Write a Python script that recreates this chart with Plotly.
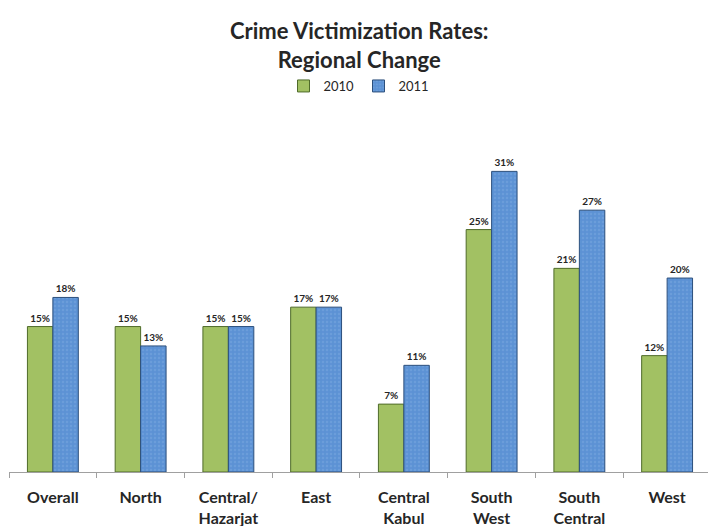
import plotly.graph_objects as go

regions = ["Overall", "North", "Central/<br>Hazarjat", "East", "Central<br>Kabul",
           "South<br>West", "South<br>Central", "West"]
rates_2010 = [15, 15, 15, 17, 7, 25, 21, 12]
rates_2011 = [18, 13, 15, 17, 11, 31, 27, 20]

W, H = 708, 526
TOP, BOTTOM = 152, 54
PLOT_H = H - TOP - BOTTOM
FONT = "Lato, 'Open Sans', sans-serif"
TXT = "#262626"


def paper_y(px):
    """Convert a pixel row (from the top) to paper coordinates."""
    return (H - BOTTOM - px) / PLOT_H


fig = go.Figure()
fig.add_trace(go.Bar(
    name="2010", x=regions, y=rates_2010,
    text=[f"{v}%" for v in rates_2010], textposition="outside",
    textfont=dict(size=10, color=TXT, family=FONT, weight="bold"),
    marker=dict(color="#a2c163", line=dict(color="#4f6b2a", width=1)),
    cliponaxis=False,
))
fig.add_trace(go.Bar(
    name="2011", x=regions, y=rates_2011,
    text=[f"{v}%" for v in rates_2011], textposition="outside",
    textfont=dict(size=10, color=TXT, family=FONT, weight="bold"),
    marker=dict(color="#5c92d4", line=dict(color="#2c4f7c", width=1),
                pattern=dict(shape=".", fgcolor="#7aa8e0", bgcolor="#5c92d4",
                             size=4, solidity=0.3)),
    cliponaxis=False,
))

fig.add_annotation(
    text="Crime Victimization Rates:<br>Regional Change",
    xref="paper", yref="paper", x=0.5, y=paper_y(45),
    xanchor="center", yanchor="middle", showarrow=False,
    font=dict(family=FONT, size=22, color=TXT, weight="bold"),
)

fig.update_layout(
    width=W, height=H,
    margin=dict(l=9, r=0, t=TOP, b=BOTTOM),
    paper_bgcolor="white", plot_bgcolor="white",
    barmode="group", bargap=0.42, bargroupgap=0,
    legend=dict(orientation="h", x=0.5, xanchor="center", y=paper_y(86), yanchor="middle",
                font=dict(family=FONT, size=13, color=TXT),
                itemwidth=30, entrywidth=30, entrywidthmode="pixels",
                bgcolor="rgba(0,0,0,0)"),
    showlegend=True,
)
fig.update_xaxes(
    range=[-0.5, 7.466], showline=True, linecolor="#a0a0a0", linewidth=1,
    ticks="outside", tickson="boundaries", ticklen=5, tickcolor="#a0a0a0",
    tickfont=dict(family=FONT, size=16, color=TXT, weight="bold"),
    ticklabelstandoff=11,
    showgrid=False, zeroline=False, fixedrange=True,
)
fig.update_yaxes(range=[0, 33], visible=False, showgrid=False, zeroline=False)

fig.write_html("out.html")
